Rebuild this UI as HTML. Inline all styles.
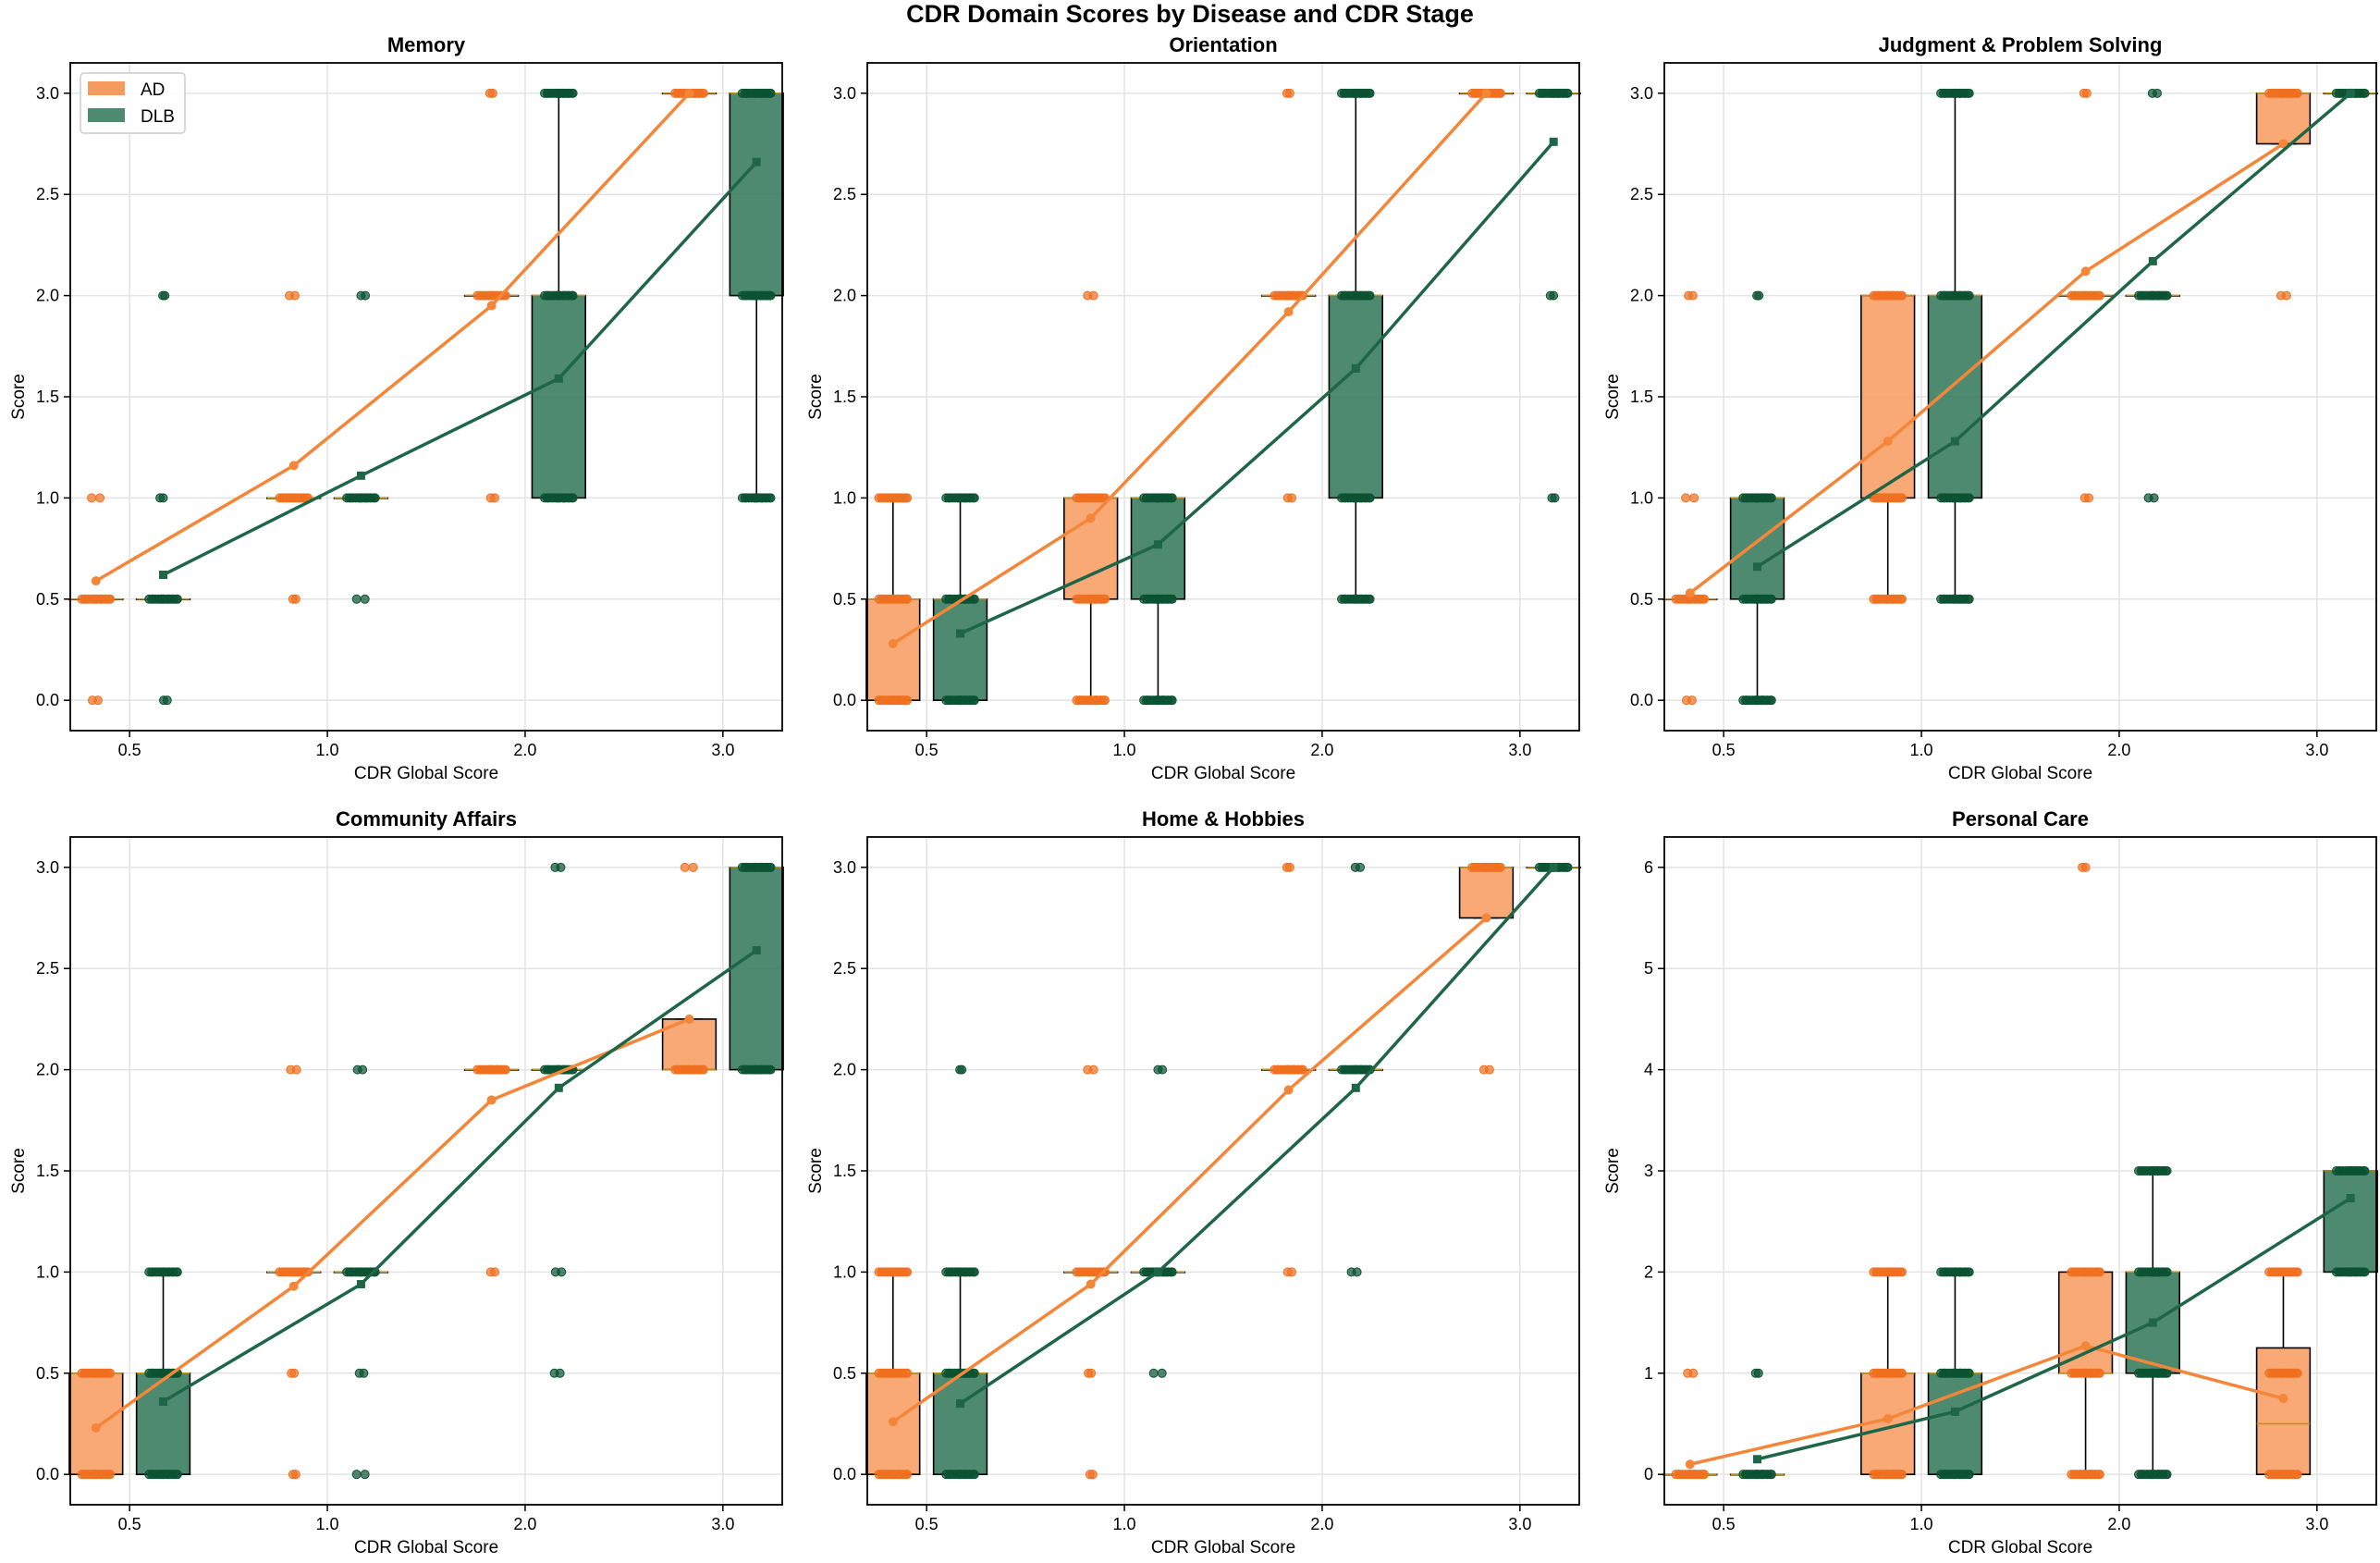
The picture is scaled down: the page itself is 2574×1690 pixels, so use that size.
<!DOCTYPE html>
<html><head><meta charset="utf-8">
<style>
html,body{margin:0;padding:0;background:#fff;}
svg text{font-family:"Liberation Sans","DejaVu Sans",sans-serif;}
</style></head>
<body>
<svg id="fig" width="2574" height="1685" xmlns="http://www.w3.org/2000/svg">
<text x="1287" y="24" text-anchor="middle" font-size="27" font-weight="bold">CDR Domain Scores by Disease and CDR Stage</text>
</svg>
<script>
// ---- data ----
const categories = ["0.5","1.0","2.0","3.0"];
const panelTitles = ["Memory","Orientation","Judgment & Problem Solving","Community Affairs","Home & Hobbies","Personal Care"];
const yMaxes = [3,3,3,3,3,6];
const yTickLists = [
 ["0.0","0.5","1.0","1.5","2.0","2.5","3.0"],["0.0","0.5","1.0","1.5","2.0","2.5","3.0"],
 ["0.0","0.5","1.0","1.5","2.0","2.5","3.0"],["0.0","0.5","1.0","1.5","2.0","2.5","3.0"],
 ["0.0","0.5","1.0","1.5","2.0","2.5","3.0"],["0","1","2","3","4","5","6"]];
const adMeans = [[0.59,1.16,1.95,3.0],[0.28,0.9,1.92,3.0],[0.53,1.28,2.12,2.75],[0.23,0.93,1.85,2.25],[0.26,0.94,1.9,2.75],[0.1,0.55,1.27,0.75]];
const dlbMeans = [[0.62,1.11,1.59,2.66],[0.33,0.77,1.64,2.76],[0.66,1.28,2.17,3.0],[0.36,0.94,1.91,2.59],[0.35,1.0,1.91,3.0],[0.15,0.62,1.5,2.73]];
// boxes: [whiskerLo, q1, median, q3, whiskerHi]
const adBoxes = [
 [[0.5,0.5,0.5,0.5,0.5],[1,1,1,1,1],[2,2,2,2,2],[3,3,3,3,3]],
 [[0,0,0.5,0.5,1],[0,0.5,1,1,1],[2,2,2,2,2],[3,3,3,3,3]],
 [[0.5,0.5,0.5,0.5,0.5],[0.5,1,2,2,2],[2,2,2,2,2],[2.75,2.75,3,3,3]],
 [[0,0,0.5,0.5,0.5],[1,1,1,1,1],[2,2,2,2,2],[2,2,2,2.25,2.25]],
 [[0,0,0.5,0.5,1],[1,1,1,1,1],[2,2,2,2,2],[2.75,2.75,3,3,3]],
 [[0,0,0,0,0],[0,0,1,1,2],[0,1,1,2,2],[0,0,0.5,1.25,2]]];
const dlbBoxes = [
 [[0.5,0.5,0.5,0.5,0.5],[1,1,1,1,1],[1,1,2,2,3],[1,2,3,3,3]],
 [[0,0,0.5,0.5,1],[0,0.5,1,1,1],[0.5,1,2,2,3],[3,3,3,3,3]],
 [[0,0.5,1,1,1],[0.5,1,2,2,3],[2,2,2,2,2],[3,3,3,3,3]],
 [[0,0,0.5,0.5,1],[1,1,1,1,1],[2,2,2,2,2],[2,2,3,3,3]],
 [[0,0,0.5,0.5,1],[1,1,1,1,1],[2,2,2,2,2],[3,3,3,3,3]],
 [[0,0,0,0,0],[0,0,1,1,2],[0,1,2,2,3],[2,2,3,3,3]]];
// individual observed values per group
const adPoints = [
 [[0,0.5,1],[0.5,1,2],[1,2,3],[3]],
 [[0,0.5,1],[0,0.5,1,2],[1,2,3],[3]],
 [[0,0.5,1,2],[0.5,1,2],[1,2,3],[2,3]],
 [[0,0.5],[0,0.5,1,2],[1,2],[2,3]],
 [[0,0.5,1],[0,0.5,1,2],[1,2,3],[2,3]],
 [[0,1],[0,1,2],[0,1,2,6],[0,1,2]]];
const dlbPoints = [
 [[0,0.5,1,2],[0.5,1,2],[1,2,3],[1,2,3]],
 [[0,0.5,1],[0,0.5,1],[0.5,1,2,3],[1,2,3]],
 [[0,0.5,1,2],[0.5,1,2,3],[1,2,3],[3]],
 [[0,0.5,1],[0,0.5,1,2],[0.5,1,2,3],[2,3]],
 [[0,0.5,1,2],[0.5,1,2],[1,2,3],[3]],
 [[0,1],[0,1,2],[0,1,2,3],[2,3]]];

const NS="http://www.w3.org/2000/svg";
const svg=document.getElementById('fig');
function mk(tag,attrs,parent){const e=document.createElementNS(NS,tag);for(const k in attrs)e.setAttribute(k,attrs[k]);(parent||svg).appendChild(e);return e;}
const lefts=[76,938,1800], tops=[68,905], W=770, H=722;
const AD_FILL="#f79a5e", DLB_FILL="#2e7556", AD_LINE="#f4863a", DLB_LINE="#1f6648", AD_PT="#f07020", DLB_PT="#0b5332";
const jit=[-0.09,0.05,-0.02,0.08,-0.06,0.01,0.1,-0.11,0.03,-0.04,0.07,-0.08,0.0,0.11,-0.01,0.04];

for(let p=0;p<6;p++){
  const L=lefts[p%3], T=tops[Math.floor(p/3)], ymax=yMaxes[p];
  const pad=ymax*0.05;
  const xs=v=>L+(v+0.3)/3.6*W;
  const ys=v=>T+H-(v+pad)/(ymax+2*pad)*H;
  const g=mk('g',{});
  
  
  const title=mk('text',{x:L+W/2,y:T-12,'text-anchor':'middle','font-size':22,'font-weight':'bold'},g);
  title.textContent=panelTitles[p];
  
  
  categories.forEach((c,i)=>{
    const x=xs(i);
    mk('line',{x1:x,x2:x,y1:T,y2:T+H,stroke:'#e3e3e3','stroke-width':1.5},g);
    mk('line',{x1:x,x2:x,y1:T+H,y2:T+H+7,stroke:'#000','stroke-width':1.5},g);
    const t=mk('text',{x:x,y:T+H+27,'text-anchor':'middle','font-size':18},g);
    t.textContent=c;
    
    
  });
  yTickLists[p].forEach(lbl=>{
    const y=ys(parseFloat(lbl));
    mk('line',{x1:L,x2:L+W,y1:y,y2:y,stroke:'#e3e3e3','stroke-width':1.5},g);
    mk('line',{x1:L-7,x2:L,y1:y,y2:y,stroke:'#000','stroke-width':1.5},g);
    const t=mk('text',{x:L-12,y:y+6,'text-anchor':'end','font-size':18},g);
    t.textContent=lbl;
    
    
  });
  const xl=mk('text',{x:L+W/2,y:T+H+52,'text-anchor':'middle','font-size':19},g);
  xl.textContent='CDR Global Score';
  
  
  const yl=mk('text',{x:0,y:0,'text-anchor':'middle','font-size':19,transform:`translate(${L-50},${T+H/2}) rotate(-90)`},g);
  yl.textContent='Score';
  
  
  const drawBox=(b,pos,fill,name)=>{
    const hw=0.135, x0=xs(pos-hw), x1=xs(pos+hw), xc=xs(pos);
    const cap0=xs(pos-hw/2), cap1=xs(pos+hw/2);
    const bg=mk('g',{},g);
    
    
    mk('line',{x1:xc,x2:xc,y1:ys(b[0]),y2:ys(b[1]),stroke:'#000','stroke-width':1.6},bg);
    mk('line',{x1:xc,x2:xc,y1:ys(b[3]),y2:ys(b[4]),stroke:'#000','stroke-width':1.6},bg);
    mk('line',{x1:cap0,x2:cap1,y1:ys(b[0]),y2:ys(b[0]),stroke:'#000','stroke-width':1.6},bg);
    mk('line',{x1:cap0,x2:cap1,y1:ys(b[4]),y2:ys(b[4]),stroke:'#000','stroke-width':1.6},bg);
    mk('rect',{x:x0,y:ys(b[3]),width:x1-x0,height:Math.max(ys(b[1])-ys(b[3]),0.5),fill:fill,'fill-opacity':0.85,stroke:'#000','stroke-width':1.6},bg);
    mk('line',{x1:x0,x2:x1,y1:ys(b[2]),y2:ys(b[2]),stroke:'#c09020','stroke-width':1.6},bg);
  };
  const drawPts=(vals,box,pos,col,seed,name)=>{
    vals.forEach((v,k)=>{
      const outlier = v<box[0] || v>box[4];
      const n = outlier?2:16, sc = outlier?0.2:0.65;
      for(let j=0;j<n;j++){
        const c=mk('circle',{cx:xs(pos+jit[(j+seed+k*3)%16]*sc),cy:ys(v),r:4.5,fill:col,'fill-opacity':0.7,stroke:col,'stroke-width':1},g);
        
        
      }
    });
  };
  for(let i=0;i<4;i++){
    drawBox(adBoxes[p][i],i-0.17,AD_FILL,'box-ad-'+categories[i]);
    drawBox(dlbBoxes[p][i],i+0.17,DLB_FILL,'box-dlb-'+categories[i]);
    drawPts(adPoints[p][i],adBoxes[p][i],i-0.17,AD_PT,i,'point-ad');
    drawPts(dlbPoints[p][i],dlbBoxes[p][i],i+0.17,DLB_PT,i+5,'point-dlb');
  }
  const drawMean=(arr,off,col,sq,name)=>{
    const pts=arr.map((v,i)=>xs(i+off)+','+ys(v)).join(' ');
    const pl=mk('polyline',{points:pts,fill:'none',stroke:col,'stroke-width':3.5},g);
    
    
    arr.forEach((v,i)=>{
      const m= sq? mk('rect',{x:xs(i+off)-4.5,y:ys(v)-4.5,width:9,height:9,fill:col},g)
                 : mk('circle',{cx:xs(i+off),cy:ys(v),r:5,fill:col},g);
      
      
    });
  };
  drawMean(adMeans[p],-0.17,AD_LINE,false,'mean-line-ad');
  drawMean(dlbMeans[p],0.17,DLB_LINE,true,'mean-line-dlb');
  mk('rect',{x:L,y:T,width:W,height:H,fill:'none',stroke:'#000','stroke-width':1.8},g);
  if(p===0){
    const lg=mk('g',{},g);
    
    
    mk('rect',{x:L+11,y:T+11,width:113,height:65,rx:4,fill:'#fff','fill-opacity':0.85,stroke:'#ccc','stroke-width':1.5},lg);
    mk('rect',{x:L+19,y:T+20,width:40,height:15,fill:AD_FILL},lg);
    mk('rect',{x:L+19,y:T+49,width:40,height:15,fill:DLB_FILL,'fill-opacity':0.85},lg);
    const t1=mk('text',{x:L+76,y:T+35,'font-size':19},lg); t1.textContent='AD';
    
    
    const t2=mk('text',{x:L+76,y:T+64,'font-size':19},lg); t2.textContent='DLB';
    
    
  }
}
</script>
</body></html>
